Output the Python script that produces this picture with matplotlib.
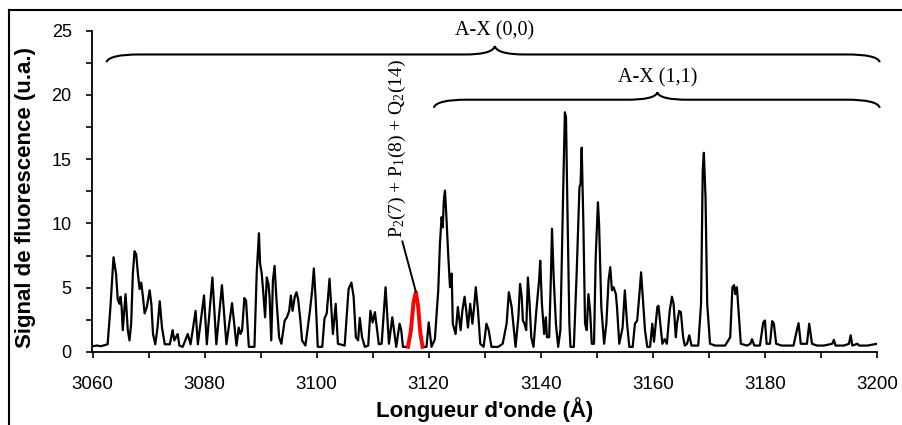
import matplotlib
matplotlib.use("Agg")
import matplotlib.pyplot as plt
from matplotlib.path import Path
from matplotlib.patches import PathPatch
from matplotlib.lines import Line2D
from matplotlib.ticker import MultipleLocator

plt.rcParams['font.family'] = ['Liberation Sans', 'DejaVu Sans']
plt.rcParams['mathtext.fontset'] = 'custom'
plt.rcParams['mathtext.rm'] = 'Liberation Serif'
plt.rcParams['mathtext.it'] = 'Liberation Serif:italic'

# ---------------- data ----------------
wavelength = [
    3060.0, 3060.8, 3061.5, 3062.3, 3062.7, 3063.2, 3063.75, 3064.2, 3064.5, 3064.8,
    3065.0, 3065.2, 3065.4, 3065.9, 3066.3, 3066.6, 3066.9, 3067.2, 3067.5, 3067.8,
    3068.1, 3068.4, 3068.7, 3069.0, 3069.3, 3069.7, 3070.2, 3070.5, 3070.8, 3071.2,
    3071.6, 3072.0, 3072.4, 3072.9, 3073.8, 3074.3, 3074.6, 3075.2, 3075.5, 3076.1,
    3077.0, 3077.5, 3078.4, 3078.8, 3079.9, 3080.4, 3081.4, 3082.1, 3083.1, 3083.9,
    3084.9, 3085.7, 3086.1, 3086.4, 3086.7, 3087.1, 3087.4, 3087.9, 3088.9, 3089.3,
    3089.7, 3089.9, 3090.2, 3090.5, 3090.8, 3091.1, 3091.4, 3091.6, 3091.9, 3092.2,
    3092.5, 3092.8, 3093.3, 3093.7, 3094.3, 3094.7, 3095.1, 3095.4, 3095.7, 3096.1,
    3096.4, 3096.7, 3097.1, 3097.4, 3098.0, 3098.8, 3099.2, 3099.5, 3099.8, 3100.2,
    3101.0, 3101.4, 3101.8, 3102.3, 3102.6, 3102.9, 3103.4, 3103.8, 3105.0, 3105.7,
    3106.2, 3106.6, 3107.0, 3107.4, 3107.7, 3108.1, 3108.6, 3109.2, 3109.6, 3110.0,
    3110.4, 3110.8, 3111.1, 3111.6, 3112.3, 3112.9, 3113.5, 3113.8, 3114.2, 3114.8,
    3115.1, 3115.4, 3116.3, 3116.8, 3117.3, 3117.7, 3118.1, 3118.5, 3118.9, 3119.6,
    3120.0, 3120.5, 3121.1, 3121.7, 3122.0, 3122.3, 3122.5, 3122.7, 3122.9, 3123.1,
    3123.5, 3123.8, 3124.1, 3124.3, 3124.8, 3125.2, 3125.7, 3126.0, 3126.4, 3126.7,
    3127.0, 3127.4, 3127.8, 3128.1, 3128.4, 3128.8, 3129.2, 3129.8, 3130.3, 3130.7,
    3131.2, 3132.4, 3133.2, 3133.9, 3134.3, 3134.8, 3135.5, 3136.0, 3136.3, 3136.6,
    3136.8, 3137.1, 3137.4, 3137.7, 3138.0, 3138.3, 3138.7, 3139.2, 3139.7, 3139.9,
    3140.2, 3140.6, 3140.9, 3141.1, 3141.5, 3141.8, 3142.0, 3142.3, 3142.7, 3143.1,
    3143.5, 3144.0, 3144.3, 3144.5, 3144.7, 3145.1, 3145.3, 3145.9, 3146.4, 3146.9,
    3147.1, 3147.3, 3147.6, 3147.9, 3148.2, 3148.5, 3148.8, 3149.1, 3149.5, 3149.8,
    3150.2, 3150.4, 3150.8, 3151.3, 3151.7, 3152.1, 3152.4, 3152.7, 3153.0, 3153.4,
    3153.6, 3154.0, 3154.6, 3155.0, 3155.4, 3155.8, 3156.4, 3156.8, 3157.2, 3157.6,
    3157.9, 3158.2, 3158.6, 3159.0, 3159.5, 3159.9, 3160.2, 3160.8, 3161.0, 3161.4,
    3161.7, 3162.1, 3162.5, 3163.0, 3163.4, 3163.7, 3164.1, 3164.3, 3164.7, 3165.0,
    3165.4, 3165.7, 3166.1, 3166.5, 3166.9, 3168.1, 3168.6, 3168.9, 3169.1, 3169.4,
    3169.7, 3170.2, 3171.1, 3172.3, 3172.9, 3173.8, 3174.2, 3174.5, 3174.7, 3175.0,
    3175.3, 3175.7, 3176.8, 3177.4, 3177.7, 3178.1, 3179.1, 3179.7, 3180.0, 3180.3,
    3180.9, 3181.3, 3181.6, 3182.0, 3183.0, 3184.5, 3185.1, 3185.7, 3186.0, 3186.4,
    3187.5, 3187.9, 3188.4, 3189.3, 3190.5, 3192.0, 3192.3, 3192.6, 3194.1, 3195.0,
    3195.3, 3195.6, 3196.5, 3196.8, 3198.3, 3200.0,
]
signal = [
    0.45, 0.5, 0.45, 0.55, 0.6, 3.5, 7.37, 6.1, 4.1, 3.75,
    4.3, 3.5, 1.7, 4.5, 1.7, 0.9, 2.2, 6.1, 7.84, 7.6,
    6.1, 4.9, 5.4, 4.3, 3.0, 3.5, 4.8, 3.75, 1.4, 0.6,
    1.9, 3.95, 1.9, 0.6, 0.6, 1.7, 0.9, 1.4, 0.5, 0.4,
    1.4, 0.6, 3.2, 0.6, 4.4, 0.6, 5.8, 0.6, 5.2, 0.6,
    3.8, 0.5, 1.9, 1.4, 1.7, 4.2, 4.0, 0.4, 0.4, 6.1,
    9.24, 6.9, 6.1, 4.5, 2.7, 5.8, 5.3, 4.3, 0.9, 5.6,
    6.7, 4.3, 1.15, 0.64, 2.45, 2.7, 3.2, 4.4, 3.2, 4.3,
    4.65, 4.1, 2.45, 0.9, 0.5, 3.2, 4.8, 6.5, 4.3, 0.4,
    0.4, 2.6, 3.0, 5.7, 3.5, 1.4, 3.75, 0.64, 0.5, 4.9,
    5.4, 4.3, 1.15, 0.9, 2.65, 1.15, 0.4, 0.5, 3.2, 2.3,
    3.1, 1.7, 0.6, 0.64, 5.04, 0.64, 2.7, 1.7, 0.4, 2.2,
    1.7, 0.4, 0.4, 1.6, 3.9, 4.65, 3.6, 1.5, 0.4, 0.4,
    2.3, 0.4, 1.0, 4.8, 8.4, 10.5, 9.7, 11.8, 12.56, 11.0,
    7.4, 5.04, 6.1, 2.2, 1.4, 3.5, 1.7, 3.2, 4.3, 3.2,
    1.9, 3.75, 2.2, 3.5, 5.04, 3.2, 0.64, 0.4, 2.2, 1.7,
    0.4, 0.4, 0.64, 2.2, 4.65, 3.5, 0.4, 2.7, 5.3, 4.3,
    2.45, 2.2, 1.7, 5.8, 3.75, 1.15, 0.4, 3.2, 5.6, 7.1,
    3.75, 1.4, 2.7, 1.15, 1.15, 5.8, 9.6, 5.8, 2.2, 0.4,
    1.7, 12.6, 18.65, 18.3, 12.6, 2.2, 0.4, 0.4, 6.1, 12.8,
    13.1, 15.9, 10.0, 2.2, 1.7, 4.5, 3.2, 0.64, 0.64, 7.4,
    11.65, 10.0, 3.5, 0.64, 2.2, 5.6, 6.6, 4.8, 5.04, 4.5,
    3.5, 0.64, 1.9, 4.8, 2.2, 0.4, 0.4, 2.2, 2.45, 4.5,
    6.2, 4.3, 1.7, 0.4, 0.4, 2.2, 0.8, 3.5, 3.6, 1.9,
    0.64, 1.0, 0.64, 3.2, 4.3, 3.75, 1.15, 2.2, 3.2, 3.1,
    1.15, 0.5, 0.64, 1.3, 0.5, 0.5, 3.75, 14.1, 15.5, 12.0,
    3.75, 0.64, 0.5, 0.5, 0.5, 1.15, 5.04, 5.2, 4.5, 5.04,
    3.2, 0.64, 0.5, 0.64, 1.0, 0.5, 0.5, 2.3, 2.45, 0.64,
    0.64, 2.4, 2.2, 0.64, 0.5, 0.5, 0.5, 1.7, 2.24, 0.64,
    0.64, 2.2, 0.64, 0.5, 0.5, 0.64, 0.95, 0.5, 0.5, 0.64,
    1.3, 0.5, 0.64, 0.5, 0.5, 0.64,
]

# highlighted line P2(7) + P1(8) + Q2(14)
highlight_wl = [3116.3, 3116.8, 3117.3, 3117.7, 3118.1, 3118.5, 3118.9]
highlight_sig = [0.4, 1.6, 3.9, 4.65, 3.6, 1.5, 0.4]

annotation_text = r'P$_2$(7) + P$_1$(8) + Q$_2$(14)'
band_labels = ['A-X (0,0)', 'A-X (1,1)']
band_ranges = [(3062.5, 3200.5), (3120.9, 3200.5)]
band_centers = [3131.8, 3160.8]

x_label = "Longueur d'onde (Å)"
y_label = "Signal de fluorescence (u.a.)"

# ---------------- figure ----------------
W, H = 903, 425
fig = plt.figure(figsize=(W / 100, H / 100), dpi=100)
ax = fig.add_axes([92.5 / W, (H - 352) / H, (877 - 92.5) / W, (352 - 30.7) / H])

ax.plot(wavelength, signal, color='black', lw=1.6, solid_joinstyle='round')
ax.plot(highlight_wl, highlight_sig, color='#ff0000', lw=2.8, solid_joinstyle='round')

ax.set_xlim(3060, 3200)
ax.set_ylim(0, 25)
ax.xaxis.set_major_locator(MultipleLocator(20))
ax.xaxis.set_minor_locator(MultipleLocator(10))
ax.yaxis.set_major_locator(MultipleLocator(5))
ax.yaxis.set_minor_locator(MultipleLocator(2.5))
for s in ['top', 'right']:
    ax.spines[s].set_visible(False)
for s in ['left', 'bottom']:
    ax.spines[s].set_linewidth(1.3)
ax.tick_params(which='both', direction='out', length=4, width=1.2, color='black')
ax.tick_params(axis='x', which='major', labelsize=13.5, pad=13)
ax.tick_params(axis='y', which='major', labelsize=13, pad=11)

fig.text(485 / W, (H - 410) / H, x_label, ha='center', va='center',
         fontsize=16, fontweight='bold')
fig.text(26 / W, (H - 198) / H, y_label, ha='center', va='center',
         rotation=90, fontsize=16, fontweight='bold')

# ---------------- braces ----------------
def brace(x0, x1, xc, y_end, y_line, y_tip, w_end=6.0, w_mid=5.5):
    verts = [
        (x0, y_end),
        (x0 + 0.05 * w_end, y_line - 0.3 * (y_line - y_end)), (x0 + 0.4 * w_end, y_line), (x0 + w_end, y_line),
        (xc - w_mid, y_line),
        (xc - 0.4 * w_mid, y_line), (xc - 0.05 * w_mid, y_line + 0.3 * (y_tip - y_line)), (xc, y_tip),
        (xc + 0.05 * w_mid, y_line + 0.3 * (y_tip - y_line)), (xc + 0.4 * w_mid, y_line), (xc + w_mid, y_line),
        (x1 - w_end, y_line),
        (x1 - 0.4 * w_end, y_line), (x1 - 0.05 * w_end, y_line - 0.3 * (y_line - y_end)), (x1, y_end),
    ]
    codes = [Path.MOVETO,
             Path.CURVE4, Path.CURVE4, Path.CURVE4,
             Path.LINETO,
             Path.CURVE4, Path.CURVE4, Path.CURVE4,
             Path.CURVE4, Path.CURVE4, Path.CURVE4,
             Path.LINETO,
             Path.CURVE4, Path.CURVE4, Path.CURVE4]
    patch = PathPatch(Path(verts, codes), facecolor='none', edgecolor='black',
                      lw=1.5, clip_on=False)
    ax.add_patch(patch)

brace(band_ranges[0][0], band_ranges[0][1], band_centers[0], 22.55, 23.15, 23.8)
brace(band_ranges[1][0], band_ranges[1][1], band_centers[1], 19.0, 19.63, 20.2)

ax.text(band_centers[0], 25.0, band_labels[0], ha='center', va='center',
        fontsize=14.5, family='Liberation Serif', clip_on=False)
ax.text(band_centers[1], 21.3, band_labels[1], ha='center', va='center',
        fontsize=14.5, family='Liberation Serif', clip_on=False)

# ---------------- annotation ----------------
ax.text(3114.4, 8.9, annotation_text, rotation=90, ha='center', va='bottom',
        fontsize=14, family='Liberation Serif')
ax.plot([3115.3, 3117.7], [8.6, 4.7], color='black', lw=1.4)

# ---------------- outer frame ----------------
fig.add_artist(Line2D([9.5 / W, 9.5 / W], [0, (H - 10) / H], color='black', lw=1.5,
                      transform=fig.transFigure))
fig.add_artist(Line2D([9.5 / W, 1.0], [(H - 10) / H, (H - 10) / H], color='black', lw=1.5,
                      transform=fig.transFigure))

fig.savefig('out.png', dpi=100)
